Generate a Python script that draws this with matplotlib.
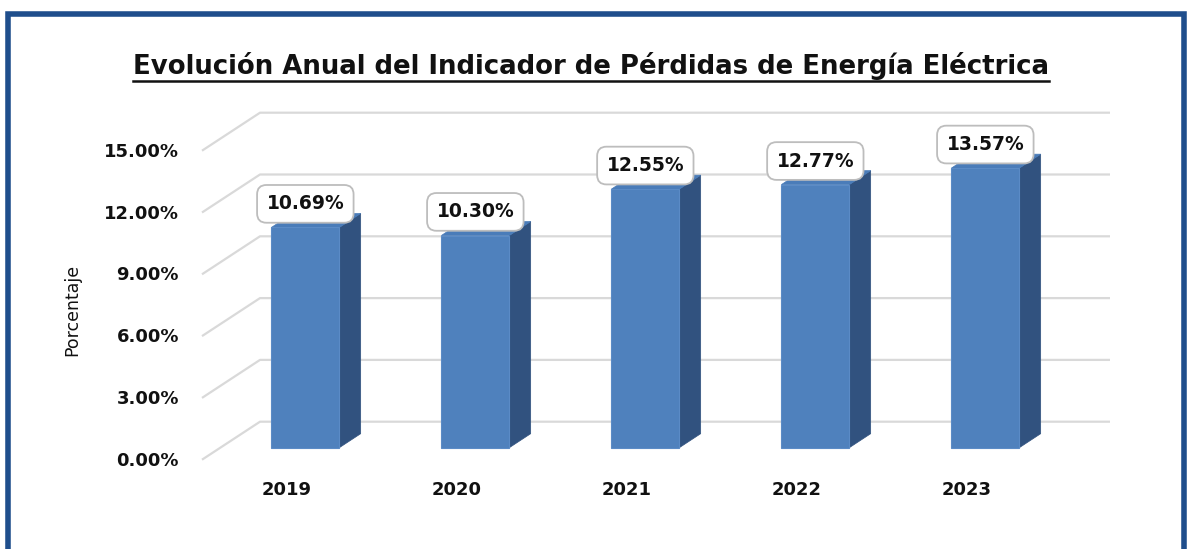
import matplotlib
matplotlib.use("Agg")
import matplotlib.pyplot as plt
from matplotlib.patches import Polygon, Rectangle
from matplotlib.lines import Line2D

# ---------------- data ----------------
years = ["2019", "2020", "2021", "2022", "2023"]
values = [10.69, 10.30, 12.55, 12.77, 13.57]
value_labels = ["10.69%", "10.30%", "12.55%", "12.77%", "13.57%"]
y_ticks = [0, 3, 6, 9, 12, 15]
y_tick_labels = ["0.00%", "3.00%", "6.00%", "9.00%", "12.00%", "15.00%"]
title = "Evolución Anual del Indicador de Pérdidas de Energía Eléctrica"
y_title = "Porcentaje"

# ---------------- layout / style ----------------
W, H = 1187, 549
CAT_PX = 170.0      # pixels per category
PCT_PX = 20.6       # pixels per percent
X0, Y0 = 260.0, 421.7   # back-wall origin in pixels
DX = -58.0 / CAT_PX     # depth vector (back -> front) in data units
DY = -38.0 / PCT_PX
D_FRONT, D_BACK = 0.684, 0.316
BAR_W = 0.40
FRONT_C = "#4F81BD"
SIDE_C = "#31527F"
TOP_C = "#4A7CB9"
GRID_C = "#D9D9D9"
BORDER_C = "#1F4E8C"
FONT = "DejaVu Sans"

fig = plt.figure(figsize=(W / 100, H / 100), dpi=100)
fig.patch.set_facecolor("white")
ax = fig.add_axes([0, 0, 1, 1])
ax.set_xlim(-X0 / CAT_PX, (W - X0) / CAT_PX)
ax.set_ylim((Y0 - H) / PCT_PX, Y0 / PCT_PX)
ax.axis("off")

n = len(years)


def proj(x, y, d):
    return (x + d * DX, y + d * DY)


# gridlines: back wall + floor diagonal
for v in y_ticks:
    fx, fy = proj(0, v, 1)
    ax.plot([fx, 0, n], [fy, v, v], color=GRID_C, lw=1.6, zorder=1,
            solid_capstyle="butt")

# tick labels (at front plane)
for v, lab in zip(y_ticks, y_tick_labels):
    fx, fy = proj(0, v, 1)
    ax.text(fx - 23.0 / CAT_PX, fy - 0.05, lab, ha="right", va="center",
            fontsize=13, fontweight="bold", family=FONT, color="#111111")

for i, yr in enumerate(years):
    fx, fy = proj(i + 0.5, 0, 1)
    ax.text(fx, fy - 30.0 / PCT_PX, yr, ha="center", va="center",
            fontsize=13, fontweight="bold", family=FONT, color="#111111")

# 3D-looking bars
for i, v in enumerate(values):
    xl, xr = i + 0.5 - BAR_W / 2, i + 0.5 + BAR_W / 2
    side = [proj(xr, 0, D_FRONT), proj(xr, 0, D_BACK),
            proj(xr, v, D_BACK), proj(xr, v, D_FRONT)]
    top = [proj(xl, v, D_FRONT), proj(xr, v, D_FRONT),
           proj(xr, v, D_BACK), proj(xl, v, D_BACK)]
    front = [proj(xl, 0, D_FRONT), proj(xr, 0, D_FRONT),
             proj(xr, v, D_FRONT), proj(xl, v, D_FRONT)]
    ax.add_patch(Polygon(side, closed=True, fc=SIDE_C, ec=SIDE_C, lw=0.5, zorder=3))
    ax.add_patch(Polygon(top, closed=True, fc=TOP_C, ec=TOP_C, lw=0.5, zorder=3))
    ax.add_patch(Polygon(front, closed=True, fc=FRONT_C, ec="#5B8BC6", lw=0.8, zorder=4))

    ax.annotate(value_labels[i], xy=proj(i + 0.5, v, D_FRONT), xytext=(0, 17),
                textcoords="offset points", ha="center", va="center",
                fontsize=13.5, fontweight="bold", family=FONT, color="#111111",
                zorder=6,
                bbox=dict(boxstyle="round,pad=0.5,rounding_size=0.5",
                          fc="white", ec="#BDBDBD", lw=1.3))

# axis title
ax.text((72 - X0) / CAT_PX, (Y0 - 310) / PCT_PX, y_title, rotation=90,
        ha="center", va="center", fontsize=12.5, family=FONT, color="#111111")

# chart title with underline
t = fig.text(591 / W, 1 - 66 / H, title, ha="center", va="center",
             fontsize=18.7, fontweight="bold", family=FONT, color="#111111")
fig.canvas.draw()
bb = t.get_window_extent()
uy = 1 - 80.5 / H
fig.add_artist(Line2D([bb.x0 / W, bb.x1 / W], [uy, uy], transform=fig.transFigure,
                      color="#111111", lw=1.8))

# outer border
fig.add_artist(Rectangle((8 / W, -0.05), (1184 - 8) / W, (H - 14) / H + 0.05,
                         transform=fig.transFigure, fill=False,
                         ec=BORDER_C, lw=4.0))

fig.savefig("out.png", dpi=100, facecolor="white")
